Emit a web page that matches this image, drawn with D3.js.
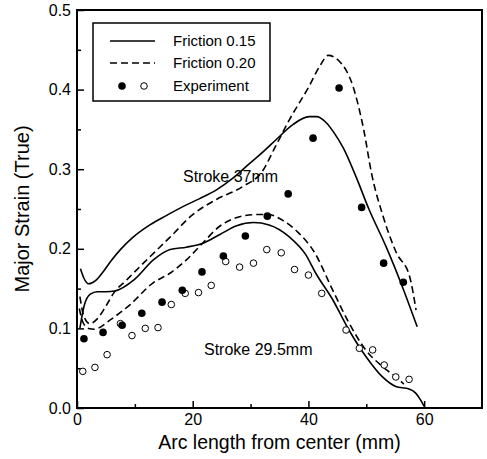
<!DOCTYPE html>
<html>
<head>
<meta charset="utf-8">
<script src="https://cdn.jsdelivr.net/npm/d3@7"></script>
<style>
  html, body { margin: 0; padding: 0; background: #fff; }
  svg { display: block; font-family: "Liberation Sans", Arial, sans-serif; }
</style>
</head>
<body>
<div id="app"></div>
<script>
// ---------- DATA ----------

// Experiment, stroke 37mm (filled dots)
const expt37X = [1.2, 4.5, 7.8, 11.2, 14.7, 18.2, 21.6, 25.3, 29.1, 32.9, 36.5, 40.8, 45.3, 49.2, 53.0, 56.4];
const expt37Y = [0.087, 0.095, 0.104, 0.119, 0.133, 0.148, 0.171, 0.191, 0.216, 0.241, 0.269, 0.339, 0.402, 0.252, 0.182, 0.158];

// Experiment, stroke 29.5mm (open dots)
const expt295X = [1.0, 3.1, 5.2, 7.5, 9.5, 11.8, 14.0, 16.3, 18.7, 21.0, 23.2, 25.7, 28.1, 30.5, 32.8, 35.3, 37.6, 40.0, 42.3, 46.5, 48.8, 51.1, 53.1, 55.1, 57.4];
const expt295Y = [0.046, 0.051, 0.067, 0.106, 0.091, 0.100, 0.101, 0.130, 0.144, 0.145, 0.154, 0.184, 0.177, 0.182, 0.199, 0.195, 0.174, 0.167, 0.144, 0.098, 0.075, 0.073, 0.054, 0.039, 0.036];

// Simulation, friction 0.15, stroke 37mm
const f015s37 = [[0.6, 0.175], [1.2, 0.163], [2.0, 0.156], [3.2, 0.160], [4.5, 0.171], [6.0, 0.186], [7.5, 0.199], [9.6, 0.214],
  [12.6, 0.230], [15.5, 0.242], [18.3, 0.253], [21.2, 0.263], [24.1, 0.274], [27.0, 0.289], [29.8, 0.307], [32.2, 0.322], [34.4, 0.337],
  [37.3, 0.356], [40.1, 0.366], [41.4, 0.366], [43.0, 0.359], [44.5, 0.345], [46.0, 0.327], [48.2, 0.291], [50.5, 0.249],
  [53.4, 0.203], [56.2, 0.153], [58.8, 0.102]];

// Simulation, friction 0.20, stroke 37mm
const f020s37 = [[0.5, 0.140], [1.2, 0.115], [2.2, 0.106], [3.5, 0.112], [5.0, 0.128], [6.3, 0.144], [8.6, 0.161], [12.6, 0.190],
  [16.0, 0.214], [20.0, 0.243], [24.1, 0.262], [28.6, 0.278], [32.0, 0.297], [34.4, 0.330], [36.7, 0.362], [40.1, 0.404],
  [42.0, 0.430], [43.4, 0.443], [45.3, 0.436], [47.7, 0.404], [49.6, 0.348], [50.9, 0.295], [52.9, 0.241], [55.2, 0.195],
  [57.5, 0.165], [58.6, 0.123]];

// Simulation, friction 0.15, stroke 29.5mm
const f015s295 = [[0.5, 0.100], [0.8, 0.113], [1.3, 0.130], [2.3, 0.143], [3.5, 0.146], [5.0, 0.146], [6.5, 0.147], [10.0, 0.162],
  [13.2, 0.186], [16.1, 0.199], [18.9, 0.202], [21.8, 0.207], [24.7, 0.218], [27.6, 0.229], [30.5, 0.233], [33.2, 0.230],
  [36.7, 0.215], [39.5, 0.193], [41.3, 0.169], [44.2, 0.136], [47.0, 0.098], [49.9, 0.065], [52.8, 0.039], [55.1, 0.027],
  [57.4, 0.024], [58.5, 0.019], [59.4, 0.010], [60.0, 0.002]];

// Simulation, friction 0.20, stroke 29.5mm
const f020s295 = [[0.4, 0.125], [1.0, 0.108], [2.0, 0.100], [3.0, 0.099], [5.8, 0.111], [9.2, 0.130], [13.1, 0.157], [16.0, 0.169],
  [18.9, 0.186], [21.7, 0.207], [24.6, 0.228], [27.5, 0.239], [31.0, 0.243], [33.0, 0.243], [35.5, 0.236], [38.3, 0.220],
  [41.0, 0.196], [44.2, 0.148], [47.0, 0.107], [49.9, 0.073], [52.8, 0.052], [55.1, 0.039], [56.5, 0.030]];

const X_TICKS = [0, 20, 40, 60];
const X_MINOR = [10, 30, 50];
const Y_TICKS = [0.0, 0.1, 0.2, 0.3, 0.4, 0.5];
const Y_TICK_LABELS = ["0.0", "0.1", "0.2", "0.3", "0.4", "0.5"];
const Y_MINOR = [0.05, 0.15, 0.25, 0.35, 0.45];

const LEGEND_LABELS = ["Friction 0.15", "Friction 0.20", "Experiment"];


// ---------- CONSTANTS ----------

const WIDTH = 487;
const HEIGHT = 459;

const PLOT_LEFT = 77;
const PLOT_RIGHT = 482;
const PLOT_TOP = 10;
const PLOT_BOTTOM = 408;

const DASH = "7,4";


// ---------- Main Program ----------

function main() {

    const svg = d3.select("#app")
        .append("svg")
        .attr("width", WIDTH)
        .attr("height", HEIGHT);

    // ---------- Scales ----------

    const scaleX = d3.scaleLinear()
        .domain([0, 70])
        .range([PLOT_LEFT, PLOT_RIGHT]);

    const scaleY = d3.scaleLinear()
        .domain([0, 0.5])
        .range([PLOT_BOTTOM, PLOT_TOP]);

    // ---------- Axes ----------

    // x-axis (ticks pointing inward)
    const axisBottom = d3.axisBottom(scaleX)
        .tickValues(X_TICKS)
        .tickFormat(d3.format("d"))
        .tickSizeInner(-7)
        .tickSizeOuter(0)
        .tickPadding(6);
    svg.append("g")
        .attr("transform", `translate(0, ${PLOT_BOTTOM})`)
        .call(axisBottom);

    svg.append("g")
        .attr("transform", `translate(0, ${PLOT_BOTTOM})`)
        .call(d3.axisBottom(scaleX).tickValues(X_MINOR).tickFormat("").tickSizeInner(-4).tickSizeOuter(0));

    // y-axis
    const axisLeft = d3.axisLeft(scaleY)
        .tickValues(Y_TICKS)
        .tickFormat((d, i) => Y_TICK_LABELS[i])
        .tickSizeInner(-7)
        .tickSizeOuter(0)
        .tickPadding(6);
    svg.append("g")
        .attr("transform", `translate(${PLOT_LEFT}, 0)`)
        .call(axisLeft);

    svg.append("g")
        .attr("transform", `translate(${PLOT_LEFT}, 0)`)
        .call(d3.axisLeft(scaleY).tickValues(Y_MINOR).tickFormat("").tickSizeInner(-4).tickSizeOuter(0));

    svg.selectAll(".tick line")
        .attr("stroke", "#000")
        .attr("stroke-width", 1.5);
    svg.selectAll(".domain").remove();
    svg.selectAll(".tick text")
        .attr("fill", "#000")
        .style("font-size", "16px")
        .style("font-family", "\"Liberation Sans\", Arial, sans-serif");

    // frame
    svg.append("rect")
        .attr("x", PLOT_LEFT)
        .attr("y", PLOT_TOP)
        .attr("width", PLOT_RIGHT - PLOT_LEFT)
        .attr("height", PLOT_BOTTOM - PLOT_TOP)
        .attr("fill", "none")
        .attr("stroke", "#000")
        .attr("stroke-width", 2);

    // axis titles
    svg.append("text")
        .attr("x", (PLOT_LEFT + PLOT_RIGHT) / 2)
        .attr("y", 449)
        .attr("text-anchor", "middle")
        .style("font-size", "19.5px")
        .text("Arc length from center (mm)");

    svg.append("text")
        .attr("transform", `translate(29, ${(PLOT_TOP + PLOT_BOTTOM) / 2}) rotate(-90)`)
        .attr("text-anchor", "middle")
        .style("font-size", "20px")
        .text("Major Strain (True)");

    // ---------- Curves ----------

    const line = d3.line()
        .x(d => scaleX(d[0]))
        .y(d => scaleY(d[1]))
        .curve(d3.curveMonotoneX);

    const curves = [
        { data: f015s37, dash: null },
        { data: f020s37, dash: DASH },
        { data: f015s295, dash: null },
        { data: f020s295, dash: DASH }
    ];

    svg.append("g")
        .selectAll("path")
        .data(curves)
        .enter()
        .append("path")
        .attr("d", d => line(d.data))
        .attr("fill", "none")
        .attr("stroke", "#000")
        .attr("stroke-width", 1.6)
        .attr("stroke-dasharray", d => d.dash);

    // ---------- Experiment points ----------

    svg.append("g")
        .selectAll("circle")
        .data(expt295X.map((x, i) => [x, expt295Y[i]]))
        .enter()
        .append("circle")
        .attr("cx", d => scaleX(d[0]))
        .attr("cy", d => scaleY(d[1]))
        .attr("r", 3.3)
        .attr("fill", "#fff")
        .attr("stroke", "#000")
        .attr("stroke-width", 1);

    svg.append("g")
        .selectAll("circle")
        .data(expt37X.map((x, i) => [x, expt37Y[i]]))
        .enter()
        .append("circle")
        .attr("cx", d => scaleX(d[0]))
        .attr("cy", d => scaleY(d[1]))
        .attr("r", 3.8)
        .attr("fill", "#000");

    // ---------- Annotations ----------

    svg.append("text")
        .attr("x", 183)
        .attr("y", 182)
        .style("font-size", "16px")
        .text("Stroke 37mm");

    svg.append("text")
        .attr("x", 204)
        .attr("y", 355)
        .style("font-size", "16px")
        .text("Stroke 29.5mm");

    // ---------- Legend ----------

    const legend = svg.append("g");
    legend.append("rect")
        .attr("x", 93)
        .attr("y", 23)
        .attr("width", 177)
        .attr("height", 78)
        .attr("fill", "#fff")
        .attr("stroke", "#000")
        .attr("stroke-width", 1.5);

    const rowY = [41, 63, 86];

    legend.append("line")
        .attr("x1", 110).attr("x2", 155)
        .attr("y1", rowY[0]).attr("y2", rowY[0])
        .attr("stroke", "#000").attr("stroke-width", 1.6);
    legend.append("line")
        .attr("x1", 110).attr("x2", 155)
        .attr("y1", rowY[1]).attr("y2", rowY[1])
        .attr("stroke", "#000").attr("stroke-width", 1.6)
        .attr("stroke-dasharray", DASH);
    legend.append("circle")
        .attr("cx", 122).attr("cy", rowY[2]).attr("r", 3.8)
        .attr("fill", "#000");
    legend.append("circle")
        .attr("cx", 144).attr("cy", rowY[2]).attr("r", 3.3)
        .attr("fill", "#fff").attr("stroke", "#000").attr("stroke-width", 1);

    legend.selectAll("text.label")
        .data(LEGEND_LABELS)
        .enter()
        .append("text")
        .attr("class", "label")
        .attr("x", 173)
        .attr("y", (d, i) => rowY[i] + 5)
        .style("font-size", "15px")
        .text(d => d);
}

main();
</script>
</body>
</html>
